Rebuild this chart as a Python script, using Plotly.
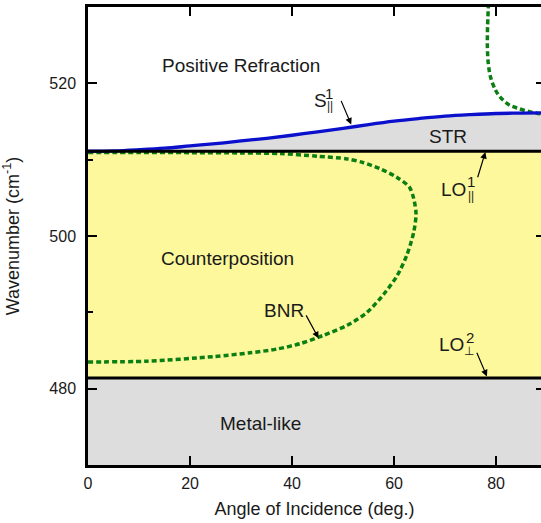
import plotly.graph_objects as go

# ---- data ----
LO_par = 511.1
LO_perp = 481.4
Y_MIN, Y_MAX = 470, 530
X_MIN, X_MAX = 0, 90

s_par_angle = [0, 5, 10, 15, 20, 25, 30, 35, 40, 45, 50, 55, 60, 65, 70, 75, 80, 85, 90]
s_par_wn = [511.1, 511.15, 511.3, 511.5, 511.8, 512.1, 512.45, 512.8, 513.2, 513.65, 514.1,
            514.6, 515.05, 515.4, 515.7, 515.9, 516.05, 516.1, 516.15]

bnr_angle = [0, 10, 20, 30, 37.7, 45, 50.8, 54, 57.3, 60.5, 63.0, 63.85, 64.3, 63.85, 62.5,
             60.6, 58.0, 54.7, 50.8, 46.2, 41.6, 37.1, 31.8, 24.6, 11.6, 0]
bnr_wn = [510.95, 510.95, 510.92, 510.88, 510.8, 510.45, 510.1, 509.6, 508.8, 507.7, 506.4,
          504.9, 502.9, 500.5, 497.5, 494.8, 492.4, 490.0, 488.3, 487.0, 485.9, 485.2,
          484.7, 484.2, 483.6, 483.5]

up_angle = [78.5, 78.3, 78.3, 78.5, 79.0, 79.9, 80.8, 82.5, 84.4, 86.7, 88.7, 90]
up_wn = [530.5, 526.7, 524.5, 522.4, 520.6, 519.1, 518.2, 517.2, 516.7, 516.25, 516.0, 515.9]

x_ticks = [0, 20, 40, 60, 80]
y_ticks = [480, 500, 520]

# ---- style ----
YELLOW = "#fdf89c"
GRAY = "#dcdddc"
GREEN = "#0b7f13"
BLUE = "#0a10cc"
FONT = "Liberation Sans, Arial, sans-serif"
TXT = "#1a1a1a"

fig = go.Figure()

# Metal-like region
fig.add_trace(go.Scatter(x=[X_MIN, X_MAX, X_MAX, X_MIN], y=[Y_MIN, Y_MIN, LO_perp, LO_perp],
                         fill="toself", fillcolor=GRAY, line=dict(width=0), mode="lines",
                         hoverinfo="skip"))
# Counterposition region
fig.add_trace(go.Scatter(x=[X_MIN, X_MAX, X_MAX, X_MIN], y=[LO_perp, LO_perp, LO_par, LO_par],
                         fill="toself", fillcolor=YELLOW, line=dict(width=0), mode="lines",
                         hoverinfo="skip"))
# STR region between LO_par and S_par
fig.add_trace(go.Scatter(x=s_par_angle, y=[LO_par] * len(s_par_angle), mode="lines",
                         line=dict(width=0), hoverinfo="skip"))
fig.add_trace(go.Scatter(x=s_par_angle, y=s_par_wn, mode="lines", fill="tonexty",
                         fillcolor=GRAY, line=dict(width=0, shape="spline"), hoverinfo="skip"))

# BNR green dotted
fig.add_trace(go.Scatter(x=bnr_angle, y=bnr_wn, mode="lines",
                         line=dict(color=GREEN, width=3.5, dash="5px,3px", shape="spline",
                                   smoothing=0.8)))
fig.add_trace(go.Scatter(x=up_angle, y=up_wn, mode="lines",
                         line=dict(color=GREEN, width=3.5, dash="5px,3px", shape="spline")))
# S_par blue
fig.add_trace(go.Scatter(x=s_par_angle, y=s_par_wn, mode="lines",
                         line=dict(color=BLUE, width=3.3, shape="spline")))
# LO lines
fig.add_trace(go.Scatter(x=[X_MIN, X_MAX], y=[LO_par, LO_par], mode="lines",
                         line=dict(color="black", width=3)))
fig.add_trace(go.Scatter(x=[X_MIN, X_MAX], y=[LO_perp, LO_perp], mode="lines",
                         line=dict(color="black", width=3)))
# invisible trace for right axis ticks
fig.add_trace(go.Scatter(x=[X_MIN], y=[Y_MIN], yaxis="y2", mode="markers",
                         marker=dict(opacity=0), hoverinfo="skip"))

def txt(x, y, s, size=19):
    fig.add_annotation(x=x, y=y, text=s, showarrow=False, xref="x", yref="y",
                       font=dict(family=FONT, size=size, color=TXT))

def arrow(x0, y0, x1, y1):
    fig.add_annotation(x=x1, y=y1, ax=x0, ay=y0, axref="x", ayref="y", xref="x", yref="y",
                       text="", showarrow=True, arrowhead=2, arrowsize=1.1, arrowwidth=1.2,
                       arrowcolor="black")

txt(29.9, 522.3, "Positive Refraction")
txt(27.3, 497.0, "Counterposition")
txt(33.8, 475.4, "Metal-like")
txt(70.6, 513.1, "STR")
txt(38.5, 490.3, "BNR")

# S_par^1
txt(45.6, 517.8, "S")
txt(47.3, 518.7, "1", 15)
txt(47.4, 517.0, "||", 12)
arrow(49.5, 517.9, 51.6, 514.6)

# LO_par^1
txt(71.7, 506.1, "LO")
txt(75.0, 507.2, "1", 15)
txt(75.0, 505.2, "||", 12)
arrow(76.3, 507.5, 77.9, 511.0)

# LO_perp^2
txt(71.3, 485.8, "LO")
txt(74.8, 486.7, "2", 15)
txt(74.6, 485.0, "⊥", 12)
arrow(76.1, 484.9, 78.2, 481.6)

# BNR arrow
arrow(42.6, 489.8, 45.2, 486.6)

fig.update_layout(
    width=541, height=523,
    margin=dict(l=88, r=0, t=7, b=58),
    plot_bgcolor="white", paper_bgcolor="white",
    showlegend=False,
    font=dict(family=FONT, size=16, color=TXT),
    xaxis=dict(range=[0, 88.8], tickvals=x_ticks, ticks="inside", ticklen=9, tickwidth=2,
               tickcolor="black", showline=True, linecolor="black", linewidth=2.5,
               mirror="ticks", showgrid=False, zeroline=False, ticklabelstandoff=2,
               title=dict(text="Angle of Incidence (deg.)", font=dict(size=18), standoff=12),
               tickfont=dict(size=16)),
    yaxis=dict(range=[Y_MIN, Y_MAX], tickvals=y_ticks, ticks="inside", ticklen=9, tickwidth=2,
               tickcolor="black", showline=True, linecolor="black", linewidth=2.5,
               mirror=False, showgrid=False, zeroline=False, ticklabelstandoff=6,
               minor=dict(tickvals=[490, 510], ticks="inside", ticklen=5, tickwidth=2,
                          tickcolor="black"),
               title=dict(text="Wavenumber (cm<sup>-1</sup>)", font=dict(size=18), standoff=26),
               tickfont=dict(size=16)),
    yaxis2=dict(range=[Y_MIN, Y_MAX], overlaying="y", side="right", anchor="x",
                tickvals=y_ticks, ticks="inside", ticklen=5, tickwidth=2, tickcolor="black",
                showticklabels=False, showline=False, showgrid=False, zeroline=False),
)

fig.write_html("out.html", config={"displayModeBar": False},
               post_script="document.body.style.margin='0';document.body.style.overflow='hidden';")
